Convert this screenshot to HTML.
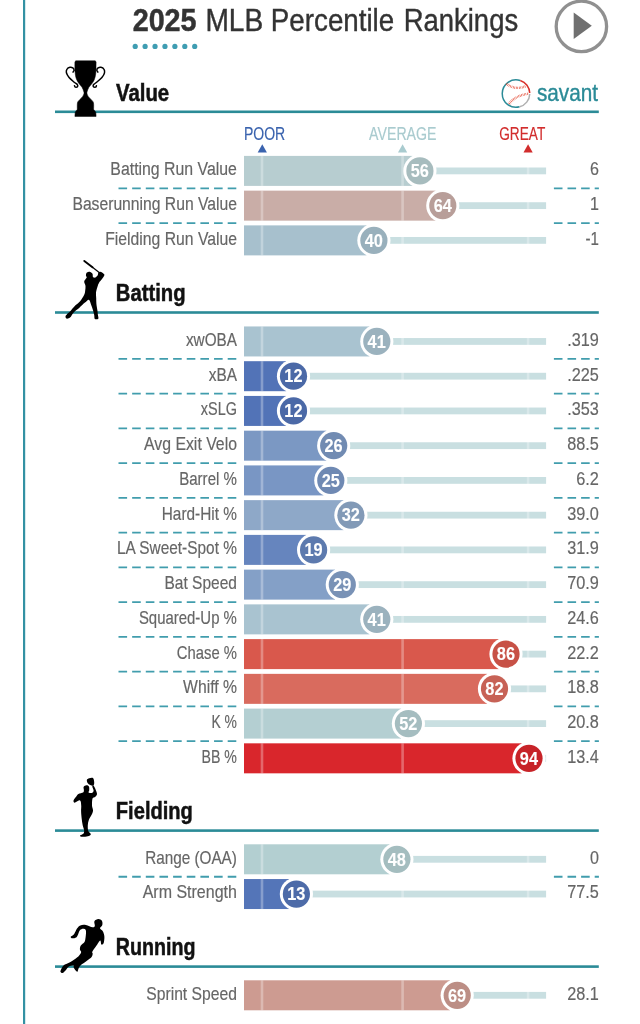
<!DOCTYPE html>
<html lang="en"><head><meta charset="utf-8"><title>2025 MLB Percentile Rankings</title>
<style>
html,body{margin:0;padding:0;background:#fff;}
body{width:640px;height:1024px;overflow:hidden;}
svg{display:block;font-family:"Liberation Sans",sans-serif;}
</style></head><body>
<svg width="640" height="1024" viewBox="0 0 640 1024">
<rect width="640" height="1024" fill="#ffffff"/>
<rect x="23" y="0" width="2.2" height="1024" fill="#3391a3"/>
<circle cx="135.20" cy="46.4" r="2.6" fill="#3f9db2"/>
<circle cx="145.12" cy="46.4" r="2.6" fill="#3f9db2"/>
<circle cx="155.04" cy="46.4" r="2.6" fill="#3f9db2"/>
<circle cx="164.96" cy="46.4" r="2.6" fill="#3f9db2"/>
<circle cx="174.88" cy="46.4" r="2.6" fill="#3f9db2"/>
<circle cx="184.80" cy="46.4" r="2.6" fill="#3f9db2"/>
<circle cx="194.72" cy="46.4" r="2.6" fill="#3f9db2"/>
<circle cx="581.4" cy="26.4" r="25.2" fill="#fff" stroke="#909090" stroke-width="3.3"/>
<path d="M573.7 12.4 L573.7 39 L591.8 25.7 Z" fill="#707070"/>
<rect x="55" y="110.50" width="543.8" height="2.6" fill="#2b8b97"/>
<rect x="244.0" y="167.50" width="302.1" height="6.8" fill="#c9dfe1"/>
<rect x="244.0" y="155.90" width="168.6" height="30.0" fill="#b7cdd0"/>
<rect x="260.7" y="155.90" width="2.6" height="30.0" fill="#fff" fill-opacity="0.3"/>
<rect x="401.3" y="155.90" width="2.6" height="30.0" fill="#fff" fill-opacity="0.3"/>
<rect x="526.8" y="155.90" width="2.6" height="30.0" fill="#fff" fill-opacity="0.3"/>
<circle cx="419.9" cy="170.90" r="16.6" fill="#fff"/>
<circle cx="419.9" cy="170.90" r="13.6" fill="#a7bcbe"/>
<line x1="118.5" y1="188.37" x2="236.3" y2="188.37" stroke="#419dad" stroke-width="1.8" stroke-dasharray="8.6 5.05"/>
<line x1="553.9" y1="188.37" x2="598.9" y2="188.37" stroke="#419dad" stroke-width="1.8" stroke-dasharray="8.6 5"/>
<rect x="244.0" y="202.24" width="302.1" height="6.8" fill="#c9dfe1"/>
<rect x="244.0" y="190.64" width="191.5" height="30.0" fill="#c9ada7"/>
<rect x="260.7" y="190.64" width="2.6" height="30.0" fill="#fff" fill-opacity="0.3"/>
<rect x="401.3" y="190.64" width="2.6" height="30.0" fill="#fff" fill-opacity="0.3"/>
<rect x="526.8" y="190.64" width="2.6" height="30.0" fill="#fff" fill-opacity="0.3"/>
<circle cx="442.8" cy="205.64" r="16.6" fill="#fff"/>
<circle cx="442.8" cy="205.64" r="13.6" fill="#b89e99"/>
<line x1="118.5" y1="223.11" x2="236.3" y2="223.11" stroke="#419dad" stroke-width="1.8" stroke-dasharray="8.6 5.05"/>
<line x1="553.9" y1="223.11" x2="598.9" y2="223.11" stroke="#419dad" stroke-width="1.8" stroke-dasharray="8.6 5"/>
<rect x="244.0" y="236.98" width="302.1" height="6.8" fill="#c9dfe1"/>
<rect x="244.0" y="225.38" width="122.6" height="30.0" fill="#a7c0cd"/>
<rect x="260.7" y="225.38" width="2.6" height="30.0" fill="#fff" fill-opacity="0.3"/>
<rect x="401.3" y="225.38" width="2.6" height="30.0" fill="#fff" fill-opacity="0.3"/>
<rect x="526.8" y="225.38" width="2.6" height="30.0" fill="#fff" fill-opacity="0.3"/>
<circle cx="373.9" cy="240.38" r="16.6" fill="#fff"/>
<circle cx="373.9" cy="240.38" r="13.6" fill="#99b0bc"/>
<rect x="55" y="311.20" width="543.8" height="2.6" fill="#2b8b97"/>
<rect x="244.0" y="338.05" width="302.1" height="6.8" fill="#c9dfe1"/>
<rect x="244.0" y="326.45" width="125.5" height="30.0" fill="#a9c3d0"/>
<rect x="260.7" y="326.45" width="2.6" height="30.0" fill="#fff" fill-opacity="0.3"/>
<rect x="401.3" y="326.45" width="2.6" height="30.0" fill="#fff" fill-opacity="0.3"/>
<rect x="526.8" y="326.45" width="2.6" height="30.0" fill="#fff" fill-opacity="0.3"/>
<circle cx="376.8" cy="341.45" r="16.6" fill="#fff"/>
<circle cx="376.8" cy="341.45" r="13.6" fill="#9bb2be"/>
<line x1="118.5" y1="358.92" x2="236.3" y2="358.92" stroke="#419dad" stroke-width="1.8" stroke-dasharray="8.6 5.05"/>
<line x1="553.9" y1="358.92" x2="598.9" y2="358.92" stroke="#419dad" stroke-width="1.8" stroke-dasharray="8.6 5"/>
<rect x="244.0" y="372.79" width="302.1" height="6.8" fill="#c9dfe1"/>
<rect x="244.0" y="361.19" width="42.2" height="30.0" fill="#5273b7"/>
<rect x="260.7" y="361.19" width="2.6" height="30.0" fill="#fff" fill-opacity="0.3"/>
<rect x="401.3" y="361.19" width="2.6" height="30.0" fill="#fff" fill-opacity="0.3"/>
<rect x="526.8" y="361.19" width="2.6" height="30.0" fill="#fff" fill-opacity="0.3"/>
<circle cx="293.5" cy="376.19" r="16.6" fill="#fff"/>
<circle cx="293.5" cy="376.19" r="13.6" fill="#4b69a7"/>
<line x1="118.5" y1="393.66" x2="236.3" y2="393.66" stroke="#419dad" stroke-width="1.8" stroke-dasharray="8.6 5.05"/>
<line x1="553.9" y1="393.66" x2="598.9" y2="393.66" stroke="#419dad" stroke-width="1.8" stroke-dasharray="8.6 5"/>
<rect x="244.0" y="407.53" width="302.1" height="6.8" fill="#c9dfe1"/>
<rect x="244.0" y="395.93" width="42.2" height="30.0" fill="#5273b7"/>
<rect x="260.7" y="395.93" width="2.6" height="30.0" fill="#fff" fill-opacity="0.3"/>
<rect x="401.3" y="395.93" width="2.6" height="30.0" fill="#fff" fill-opacity="0.3"/>
<rect x="526.8" y="395.93" width="2.6" height="30.0" fill="#fff" fill-opacity="0.3"/>
<circle cx="293.5" cy="410.93" r="16.6" fill="#fff"/>
<circle cx="293.5" cy="410.93" r="13.6" fill="#4b69a7"/>
<line x1="118.5" y1="428.40" x2="236.3" y2="428.40" stroke="#419dad" stroke-width="1.8" stroke-dasharray="8.6 5.05"/>
<line x1="553.9" y1="428.40" x2="598.9" y2="428.40" stroke="#419dad" stroke-width="1.8" stroke-dasharray="8.6 5"/>
<rect x="244.0" y="442.27" width="302.1" height="6.8" fill="#c9dfe1"/>
<rect x="244.0" y="430.67" width="82.4" height="30.0" fill="#7b98c3"/>
<rect x="260.7" y="430.67" width="2.6" height="30.0" fill="#fff" fill-opacity="0.3"/>
<rect x="401.3" y="430.67" width="2.6" height="30.0" fill="#fff" fill-opacity="0.3"/>
<rect x="526.8" y="430.67" width="2.6" height="30.0" fill="#fff" fill-opacity="0.3"/>
<circle cx="333.7" cy="445.67" r="16.6" fill="#fff"/>
<circle cx="333.7" cy="445.67" r="13.6" fill="#718bb2"/>
<line x1="118.5" y1="463.14" x2="236.3" y2="463.14" stroke="#419dad" stroke-width="1.8" stroke-dasharray="8.6 5.05"/>
<line x1="553.9" y1="463.14" x2="598.9" y2="463.14" stroke="#419dad" stroke-width="1.8" stroke-dasharray="8.6 5"/>
<rect x="244.0" y="477.01" width="302.1" height="6.8" fill="#c9dfe1"/>
<rect x="244.0" y="465.41" width="79.5" height="30.0" fill="#7996c4"/>
<rect x="260.7" y="465.41" width="2.6" height="30.0" fill="#fff" fill-opacity="0.3"/>
<rect x="401.3" y="465.41" width="2.6" height="30.0" fill="#fff" fill-opacity="0.3"/>
<rect x="526.8" y="465.41" width="2.6" height="30.0" fill="#fff" fill-opacity="0.3"/>
<circle cx="330.8" cy="480.41" r="16.6" fill="#fff"/>
<circle cx="330.8" cy="480.41" r="13.6" fill="#6f89b3"/>
<line x1="118.5" y1="497.88" x2="236.3" y2="497.88" stroke="#419dad" stroke-width="1.8" stroke-dasharray="8.6 5.05"/>
<line x1="553.9" y1="497.88" x2="598.9" y2="497.88" stroke="#419dad" stroke-width="1.8" stroke-dasharray="8.6 5"/>
<rect x="244.0" y="511.75" width="302.1" height="6.8" fill="#c9dfe1"/>
<rect x="244.0" y="500.15" width="99.6" height="30.0" fill="#8ea8c8"/>
<rect x="260.7" y="500.15" width="2.6" height="30.0" fill="#fff" fill-opacity="0.3"/>
<rect x="401.3" y="500.15" width="2.6" height="30.0" fill="#fff" fill-opacity="0.3"/>
<rect x="526.8" y="500.15" width="2.6" height="30.0" fill="#fff" fill-opacity="0.3"/>
<circle cx="350.9" cy="515.15" r="16.6" fill="#fff"/>
<circle cx="350.9" cy="515.15" r="13.6" fill="#829ab7"/>
<line x1="118.5" y1="532.62" x2="236.3" y2="532.62" stroke="#419dad" stroke-width="1.8" stroke-dasharray="8.6 5.05"/>
<line x1="553.9" y1="532.62" x2="598.9" y2="532.62" stroke="#419dad" stroke-width="1.8" stroke-dasharray="8.6 5"/>
<rect x="244.0" y="546.49" width="302.1" height="6.8" fill="#c9dfe1"/>
<rect x="244.0" y="534.89" width="62.3" height="30.0" fill="#6685be"/>
<rect x="260.7" y="534.89" width="2.6" height="30.0" fill="#fff" fill-opacity="0.3"/>
<rect x="401.3" y="534.89" width="2.6" height="30.0" fill="#fff" fill-opacity="0.3"/>
<rect x="526.8" y="534.89" width="2.6" height="30.0" fill="#fff" fill-opacity="0.3"/>
<circle cx="313.6" cy="549.89" r="16.6" fill="#fff"/>
<circle cx="313.6" cy="549.89" r="13.6" fill="#5d7aae"/>
<line x1="118.5" y1="567.36" x2="236.3" y2="567.36" stroke="#419dad" stroke-width="1.8" stroke-dasharray="8.6 5.05"/>
<line x1="553.9" y1="567.36" x2="598.9" y2="567.36" stroke="#419dad" stroke-width="1.8" stroke-dasharray="8.6 5"/>
<rect x="244.0" y="581.23" width="302.1" height="6.8" fill="#c9dfe1"/>
<rect x="244.0" y="569.63" width="91.0" height="30.0" fill="#84a0c7"/>
<rect x="260.7" y="569.63" width="2.6" height="30.0" fill="#fff" fill-opacity="0.3"/>
<rect x="401.3" y="569.63" width="2.6" height="30.0" fill="#fff" fill-opacity="0.3"/>
<rect x="526.8" y="569.63" width="2.6" height="30.0" fill="#fff" fill-opacity="0.3"/>
<circle cx="342.3" cy="584.63" r="16.6" fill="#fff"/>
<circle cx="342.3" cy="584.63" r="13.6" fill="#7992b6"/>
<line x1="118.5" y1="602.10" x2="236.3" y2="602.10" stroke="#419dad" stroke-width="1.8" stroke-dasharray="8.6 5.05"/>
<line x1="553.9" y1="602.10" x2="598.9" y2="602.10" stroke="#419dad" stroke-width="1.8" stroke-dasharray="8.6 5"/>
<rect x="244.0" y="615.97" width="302.1" height="6.8" fill="#c9dfe1"/>
<rect x="244.0" y="604.37" width="125.5" height="30.0" fill="#a9c3d0"/>
<rect x="260.7" y="604.37" width="2.6" height="30.0" fill="#fff" fill-opacity="0.3"/>
<rect x="401.3" y="604.37" width="2.6" height="30.0" fill="#fff" fill-opacity="0.3"/>
<rect x="526.8" y="604.37" width="2.6" height="30.0" fill="#fff" fill-opacity="0.3"/>
<circle cx="376.8" cy="619.37" r="16.6" fill="#fff"/>
<circle cx="376.8" cy="619.37" r="13.6" fill="#9bb2be"/>
<line x1="118.5" y1="636.84" x2="236.3" y2="636.84" stroke="#419dad" stroke-width="1.8" stroke-dasharray="8.6 5.05"/>
<line x1="553.9" y1="636.84" x2="598.9" y2="636.84" stroke="#419dad" stroke-width="1.8" stroke-dasharray="8.6 5"/>
<rect x="244.0" y="650.71" width="302.1" height="6.8" fill="#c9dfe1"/>
<rect x="244.0" y="639.11" width="254.7" height="30.0" fill="#d9584c"/>
<rect x="260.7" y="639.11" width="2.6" height="30.0" fill="#fff" fill-opacity="0.3"/>
<rect x="401.3" y="639.11" width="2.6" height="30.0" fill="#fff" fill-opacity="0.3"/>
<rect x="526.8" y="639.11" width="2.6" height="30.0" fill="#fff" fill-opacity="0.3"/>
<circle cx="506.0" cy="654.11" r="16.6" fill="#fff"/>
<circle cx="506.0" cy="654.11" r="13.6" fill="#c75146"/>
<line x1="118.5" y1="671.58" x2="236.3" y2="671.58" stroke="#419dad" stroke-width="1.8" stroke-dasharray="8.6 5.05"/>
<line x1="553.9" y1="671.58" x2="598.9" y2="671.58" stroke="#419dad" stroke-width="1.8" stroke-dasharray="8.6 5"/>
<rect x="244.0" y="685.45" width="302.1" height="6.8" fill="#c9dfe1"/>
<rect x="244.0" y="673.85" width="243.2" height="30.0" fill="#d96b5e"/>
<rect x="260.7" y="673.85" width="2.6" height="30.0" fill="#fff" fill-opacity="0.3"/>
<rect x="401.3" y="673.85" width="2.6" height="30.0" fill="#fff" fill-opacity="0.3"/>
<rect x="526.8" y="673.85" width="2.6" height="30.0" fill="#fff" fill-opacity="0.3"/>
<circle cx="494.5" cy="688.85" r="16.6" fill="#fff"/>
<circle cx="494.5" cy="688.85" r="13.6" fill="#c76256"/>
<line x1="118.5" y1="706.32" x2="236.3" y2="706.32" stroke="#419dad" stroke-width="1.8" stroke-dasharray="8.6 5.05"/>
<line x1="553.9" y1="706.32" x2="598.9" y2="706.32" stroke="#419dad" stroke-width="1.8" stroke-dasharray="8.6 5"/>
<rect x="244.0" y="720.19" width="302.1" height="6.8" fill="#c9dfe1"/>
<rect x="244.0" y="708.59" width="157.1" height="30.0" fill="#b4cfd2"/>
<rect x="260.7" y="708.59" width="2.6" height="30.0" fill="#fff" fill-opacity="0.3"/>
<rect x="401.3" y="708.59" width="2.6" height="30.0" fill="#fff" fill-opacity="0.3"/>
<rect x="526.8" y="708.59" width="2.6" height="30.0" fill="#fff" fill-opacity="0.3"/>
<circle cx="408.4" cy="723.59" r="16.6" fill="#fff"/>
<circle cx="408.4" cy="723.59" r="13.6" fill="#a5bdc0"/>
<line x1="118.5" y1="741.06" x2="236.3" y2="741.06" stroke="#419dad" stroke-width="1.8" stroke-dasharray="8.6 5.05"/>
<line x1="553.9" y1="741.06" x2="598.9" y2="741.06" stroke="#419dad" stroke-width="1.8" stroke-dasharray="8.6 5"/>
<rect x="244.0" y="754.93" width="302.1" height="6.8" fill="#c9dfe1"/>
<rect x="244.0" y="743.33" width="277.7" height="30.0" fill="#d9262c"/>
<rect x="260.7" y="743.33" width="2.6" height="30.0" fill="#fff" fill-opacity="0.3"/>
<rect x="401.3" y="743.33" width="2.6" height="30.0" fill="#fff" fill-opacity="0.3"/>
<rect x="526.8" y="743.33" width="2.6" height="30.0" fill="#fff" fill-opacity="0.3"/>
<circle cx="529.0" cy="758.33" r="16.6" fill="#fff"/>
<circle cx="529.0" cy="758.33" r="13.6" fill="#c72328"/>
<rect x="55" y="829.30" width="543.8" height="2.6" fill="#2b8b97"/>
<rect x="244.0" y="855.90" width="302.1" height="6.8" fill="#c9dfe1"/>
<rect x="244.0" y="844.30" width="145.6" height="30.0" fill="#b3cfd1"/>
<rect x="260.7" y="844.30" width="2.6" height="30.0" fill="#fff" fill-opacity="0.3"/>
<rect x="401.3" y="844.30" width="2.6" height="30.0" fill="#fff" fill-opacity="0.3"/>
<rect x="526.8" y="844.30" width="2.6" height="30.0" fill="#fff" fill-opacity="0.3"/>
<circle cx="396.9" cy="859.30" r="16.6" fill="#fff"/>
<circle cx="396.9" cy="859.30" r="13.6" fill="#a4bdbf"/>
<line x1="118.5" y1="876.77" x2="236.3" y2="876.77" stroke="#419dad" stroke-width="1.8" stroke-dasharray="8.6 5.05"/>
<line x1="553.9" y1="876.77" x2="598.9" y2="876.77" stroke="#419dad" stroke-width="1.8" stroke-dasharray="8.6 5"/>
<rect x="244.0" y="890.64" width="302.1" height="6.8" fill="#c9dfe1"/>
<rect x="244.0" y="879.04" width="45.1" height="30.0" fill="#5475b8"/>
<rect x="260.7" y="879.04" width="2.6" height="30.0" fill="#fff" fill-opacity="0.3"/>
<rect x="401.3" y="879.04" width="2.6" height="30.0" fill="#fff" fill-opacity="0.3"/>
<rect x="526.8" y="879.04" width="2.6" height="30.0" fill="#fff" fill-opacity="0.3"/>
<circle cx="296.4" cy="894.04" r="16.6" fill="#fff"/>
<circle cx="296.4" cy="894.04" r="13.6" fill="#4d6ba8"/>
<rect x="55" y="965.30" width="543.8" height="2.6" fill="#2b8b97"/>
<rect x="244.0" y="991.90" width="302.1" height="6.8" fill="#c9dfe1"/>
<rect x="244.0" y="980.30" width="205.9" height="30.0" fill="#cd9b91"/>
<rect x="260.7" y="980.30" width="2.6" height="30.0" fill="#fff" fill-opacity="0.3"/>
<rect x="401.3" y="980.30" width="2.6" height="30.0" fill="#fff" fill-opacity="0.3"/>
<rect x="526.8" y="980.30" width="2.6" height="30.0" fill="#fff" fill-opacity="0.3"/>
<circle cx="457.2" cy="995.30" r="16.6" fill="#fff"/>
<circle cx="457.2" cy="995.30" r="13.6" fill="#bc8e85"/>
<path d="M262.3 144.2 L257.7 152.5 L266.90000000000003 152.5 Z" fill="#3a63ae"/>
<path d="M402.6 144.2 L398.0 152.5 L407.20000000000005 152.5 Z" fill="#a9cbcf"/>
<path d="M528.1 144.2 L523.5 152.5 L532.7 152.5 Z" fill="#d22d2d"/>
<text transform="translate(132.69 30.90) scale(0.2279 .25)" font-size="126" font-weight="700" fill="#333333" stroke="#333333" stroke-width="2">2025</text>
<text transform="translate(205.41 30.90) scale(0.2235 .25)" font-size="126" fill="#333333" stroke="#333333" stroke-width="1.6">MLB</text>
<text transform="translate(270.84 30.90) scale(0.2203 .25)" font-size="126" fill="#333333" stroke="#333333" stroke-width="1.6">Percentile</text>
<text transform="translate(403.66 30.90) scale(0.2180 .25)" font-size="126" fill="#333333" stroke="#333333" stroke-width="1.6">Rankings</text>
<text transform="translate(115.90 100.65) scale(0.2162 .25)" font-size="94.4" font-weight="700" fill="#111111" stroke="#111111" stroke-width="2">Value</text>
<text transform="translate(410.67 177.20) scale(0.2272 .25)" font-size="72" font-weight="700" fill="#ffffff" stroke="#ffffff" stroke-width="0.48">56</text>
<text transform="translate(110.35 175.30) scale(0.2202 .25)" font-size="72" fill="#666666" stroke="#666666" stroke-width="0.68">Batting Run Value</text>
<text transform="translate(589.94 175.30) scale(0.2237 .25)" font-size="72" fill="#666666" stroke="#666666" stroke-width="0.68">6</text>
<text transform="translate(433.65 211.94) scale(0.2272 .25)" font-size="72" font-weight="700" fill="#ffffff" stroke="#ffffff" stroke-width="0.48">64</text>
<text transform="translate(72.43 210.04) scale(0.2179 .25)" font-size="72" fill="#666666" stroke="#666666" stroke-width="0.68">Baserunning Run Value</text>
<text transform="translate(589.94 210.04) scale(0.2237 .25)" font-size="72" fill="#666666" stroke="#666666" stroke-width="0.68">1</text>
<text transform="translate(364.72 246.68) scale(0.2272 .25)" font-size="72" font-weight="700" fill="#ffffff" stroke="#ffffff" stroke-width="0.48">40</text>
<text transform="translate(105.13 244.78) scale(0.2187 .25)" font-size="72" fill="#666666" stroke="#666666" stroke-width="0.68">Fielding Run Value</text>
<text transform="translate(585.43 244.78) scale(0.2102 .25)" font-size="72" fill="#666666" stroke="#666666" stroke-width="0.68">-1</text>
<text transform="translate(115.84 301.35) scale(0.2147 .25)" font-size="94.4" font-weight="700" fill="#111111" stroke="#111111" stroke-width="2">Batting</text>
<text transform="translate(367.59 347.75) scale(0.2272 .25)" font-size="72" font-weight="700" fill="#ffffff" stroke="#ffffff" stroke-width="0.48">41</text>
<text transform="translate(185.97 345.85) scale(0.2126 .25)" font-size="72" fill="#666666" stroke="#666666" stroke-width="0.68">xwOBA</text>
<text transform="translate(567.24 345.85) scale(0.2258 .25)" font-size="72" fill="#666666" stroke="#666666" stroke-width="0.68">.319</text>
<text transform="translate(284.30 382.49) scale(0.2272 .25)" font-size="72" font-weight="700" fill="#ffffff" stroke="#ffffff" stroke-width="0.48">12</text>
<text transform="translate(208.67 380.59) scale(0.2146 .25)" font-size="72" fill="#666666" stroke="#666666" stroke-width="0.68">xBA</text>
<text transform="translate(567.24 380.59) scale(0.2258 .25)" font-size="72" fill="#666666" stroke="#666666" stroke-width="0.68">.225</text>
<text transform="translate(284.30 417.23) scale(0.2272 .25)" font-size="72" font-weight="700" fill="#ffffff" stroke="#ffffff" stroke-width="0.48">12</text>
<text transform="translate(200.85 415.33) scale(0.2007 .25)" font-size="72" fill="#666666" stroke="#666666" stroke-width="0.68">xSLG</text>
<text transform="translate(567.24 415.33) scale(0.2258 .25)" font-size="72" fill="#666666" stroke="#666666" stroke-width="0.68">.353</text>
<text transform="translate(324.51 451.97) scale(0.2272 .25)" font-size="72" font-weight="700" fill="#ffffff" stroke="#ffffff" stroke-width="0.48">26</text>
<text transform="translate(143.98 450.07) scale(0.2199 .25)" font-size="72" fill="#666666" stroke="#666666" stroke-width="0.68">Avg Exit Velo</text>
<text transform="translate(567.24 450.07) scale(0.2258 .25)" font-size="72" fill="#666666" stroke="#666666" stroke-width="0.68">88.5</text>
<text transform="translate(321.64 486.71) scale(0.2272 .25)" font-size="72" font-weight="700" fill="#ffffff" stroke="#ffffff" stroke-width="0.48">25</text>
<text transform="translate(179.20 484.81) scale(0.2093 .25)" font-size="72" fill="#666666" stroke="#666666" stroke-width="0.68">Barrel %</text>
<text transform="translate(576.19 484.81) scale(0.2268 .25)" font-size="72" fill="#666666" stroke="#666666" stroke-width="0.68">6.2</text>
<text transform="translate(341.74 521.45) scale(0.2272 .25)" font-size="72" font-weight="700" fill="#ffffff" stroke="#ffffff" stroke-width="0.48">32</text>
<text transform="translate(161.76 519.55) scale(0.2137 .25)" font-size="72" fill="#666666" stroke="#666666" stroke-width="0.68">Hard-Hit %</text>
<text transform="translate(567.24 519.55) scale(0.2258 .25)" font-size="72" fill="#666666" stroke="#666666" stroke-width="0.68">39.0</text>
<text transform="translate(304.41 556.19) scale(0.2272 .25)" font-size="72" font-weight="700" fill="#ffffff" stroke="#ffffff" stroke-width="0.48">19</text>
<text transform="translate(117.02 554.29) scale(0.2141 .25)" font-size="72" fill="#666666" stroke="#666666" stroke-width="0.68">LA Sweet-Spot %</text>
<text transform="translate(567.24 554.29) scale(0.2258 .25)" font-size="72" fill="#666666" stroke="#666666" stroke-width="0.68">31.9</text>
<text transform="translate(333.13 590.93) scale(0.2272 .25)" font-size="72" font-weight="700" fill="#ffffff" stroke="#ffffff" stroke-width="0.48">29</text>
<text transform="translate(164.50 589.03) scale(0.2156 .25)" font-size="72" fill="#666666" stroke="#666666" stroke-width="0.68">Bat Speed</text>
<text transform="translate(567.24 589.03) scale(0.2258 .25)" font-size="72" fill="#666666" stroke="#666666" stroke-width="0.68">70.9</text>
<text transform="translate(367.59 625.67) scale(0.2272 .25)" font-size="72" font-weight="700" fill="#ffffff" stroke="#ffffff" stroke-width="0.48">41</text>
<text transform="translate(138.89 623.77) scale(0.2077 .25)" font-size="72" fill="#666666" stroke="#666666" stroke-width="0.68">Squared-Up %</text>
<text transform="translate(567.24 623.77) scale(0.2258 .25)" font-size="72" fill="#666666" stroke="#666666" stroke-width="0.68">24.6</text>
<text transform="translate(496.83 660.41) scale(0.2272 .25)" font-size="72" font-weight="700" fill="#ffffff" stroke="#ffffff" stroke-width="0.48">86</text>
<text transform="translate(176.84 658.51) scale(0.2059 .25)" font-size="72" fill="#666666" stroke="#666666" stroke-width="0.68">Chase %</text>
<text transform="translate(567.24 658.51) scale(0.2258 .25)" font-size="72" fill="#666666" stroke="#666666" stroke-width="0.68">22.2</text>
<text transform="translate(485.34 695.15) scale(0.2272 .25)" font-size="72" font-weight="700" fill="#ffffff" stroke="#ffffff" stroke-width="0.48">82</text>
<text transform="translate(183.12 693.25) scale(0.2184 .25)" font-size="72" fill="#666666" stroke="#666666" stroke-width="0.68">Whiff %</text>
<text transform="translate(567.24 693.25) scale(0.2258 .25)" font-size="72" fill="#666666" stroke="#666666" stroke-width="0.68">18.8</text>
<text transform="translate(399.18 729.89) scale(0.2272 .25)" font-size="72" font-weight="700" fill="#ffffff" stroke="#ffffff" stroke-width="0.48">52</text>
<text transform="translate(211.45 727.99) scale(0.1934 .25)" font-size="72" fill="#666666" stroke="#666666" stroke-width="0.68">K %</text>
<text transform="translate(567.24 727.99) scale(0.2258 .25)" font-size="72" fill="#666666" stroke="#666666" stroke-width="0.68">20.8</text>
<text transform="translate(519.81 764.63) scale(0.2272 .25)" font-size="72" font-weight="700" fill="#ffffff" stroke="#ffffff" stroke-width="0.48">94</text>
<text transform="translate(201.53 762.73) scale(0.1969 .25)" font-size="72" fill="#666666" stroke="#666666" stroke-width="0.68">BB %</text>
<text transform="translate(567.24 762.73) scale(0.2258 .25)" font-size="72" fill="#666666" stroke="#666666" stroke-width="0.68">13.4</text>
<text transform="translate(115.85 819.45) scale(0.2130 .25)" font-size="94.4" font-weight="700" fill="#111111" stroke="#111111" stroke-width="2">Fielding</text>
<text transform="translate(387.69 865.60) scale(0.2272 .25)" font-size="72" font-weight="700" fill="#ffffff" stroke="#ffffff" stroke-width="0.48">48</text>
<text transform="translate(145.15 863.70) scale(0.2125 .25)" font-size="72" fill="#666666" stroke="#666666" stroke-width="0.68">Range (OAA)</text>
<text transform="translate(589.94 863.70) scale(0.2237 .25)" font-size="72" fill="#666666" stroke="#666666" stroke-width="0.68">0</text>
<text transform="translate(287.17 900.34) scale(0.2272 .25)" font-size="72" font-weight="700" fill="#ffffff" stroke="#ffffff" stroke-width="0.48">13</text>
<text transform="translate(142.67 898.44) scale(0.2224 .25)" font-size="72" fill="#666666" stroke="#666666" stroke-width="0.68">Arm Strength</text>
<text transform="translate(567.24 898.44) scale(0.2258 .25)" font-size="72" fill="#666666" stroke="#666666" stroke-width="0.68">77.5</text>
<text transform="translate(115.87 955.45) scale(0.2083 .25)" font-size="94.4" font-weight="700" fill="#111111" stroke="#111111" stroke-width="2">Running</text>
<text transform="translate(448.01 1001.60) scale(0.2272 .25)" font-size="72" font-weight="700" fill="#ffffff" stroke="#ffffff" stroke-width="0.48">69</text>
<text transform="translate(146.25 999.70) scale(0.2180 .25)" font-size="72" fill="#666666" stroke="#666666" stroke-width="0.68">Sprint Speed</text>
<text transform="translate(567.24 999.70) scale(0.2258 .25)" font-size="72" fill="#666666" stroke="#666666" stroke-width="0.68">28.1</text>
<text transform="translate(243.91 140.30) scale(0.1970 .25)" font-size="71.2" fill="#3a63ae" stroke="#3a63ae" stroke-width="0.68">POOR</text>
<text transform="translate(369.10 140.30) scale(0.1990 .25)" font-size="71.2" fill="#a9cbcf" stroke="#a9cbcf" stroke-width="0.68">AVERAGE</text>
<text transform="translate(499.20 140.30) scale(0.1919 .25)" font-size="71.2" fill="#d22d2d" stroke="#d22d2d" stroke-width="0.68">GREAT</text>
<text transform="translate(536.90 100.80) scale(0.2198 .25)" font-size="94.4" fill="#2b8b97" stroke="#2b8b97" stroke-width="1.6">savant</text>
<path d="M74.9 62.3C74.9 63.9 74.8 69.2 75.1 71.9C75.3 74.6 75.6 76.6 76.2 78.4C76.8 80.3 77.7 81.6 78.6 83.1C79.6 84.6 81.2 86.0 82.0 87.3C82.8 88.7 83.3 90.1 83.6 91.1C83.9 92.1 84.1 92.5 84.0 93.4C83.8 94.3 83.4 95.4 82.7 96.4C82.1 97.4 80.8 98.4 79.9 99.4C79.1 100.5 77.9 101.0 77.5 102.6C77.1 104.3 77.3 108.2 77.3 109.4 L77.2 109.4 L75.2 112.2 L74.9 116.4 L96.1 116.4 L95.8 112.2 L93.7 109.4 L93.6 109.4C93.6 108.2 93.9 104.3 93.4 102.6C93.0 101.0 91.9 100.5 91.0 99.4C90.1 98.4 88.9 97.4 88.2 96.4C87.5 95.4 87.1 94.3 87.0 93.4C86.8 92.5 87.0 92.1 87.3 91.1C87.7 90.1 88.1 88.7 88.9 87.3C89.8 86.0 91.3 84.6 92.3 83.1C93.3 81.6 94.2 80.3 94.7 78.4C95.3 76.6 95.7 74.6 95.9 71.9C96.1 69.2 96.0 63.9 96.1 62.3 L96.1 61.7 L95.1 60.8 L75.8 60.8 L74.9 61.7Z" fill="#000" stroke="#000" stroke-width="0.5" stroke-linejoin="round"/>
<path d="M73.0 72.1C73.2 71.7 74.2 70.9 74.1 70.2C74.1 69.5 73.5 68.4 72.8 67.9C72.1 67.4 71.0 67.0 70.0 67.2C69.0 67.4 67.6 68.1 67.0 69.1C66.4 70.0 66.1 71.4 66.4 72.8C66.8 74.2 67.8 75.9 69.1 77.5C70.4 79.1 72.8 81.0 74.2 82.2C75.6 83.4 77.0 84.0 77.5 84.8C78.0 85.6 77.7 86.5 77.3 86.9C76.9 87.2 75.6 87.2 75.2 87.1C74.7 86.9 74.6 86.0 74.5 85.7" fill="none" stroke="#000" stroke-width="1.5" stroke-linecap="round"/>
<path d="M97.9 72.1C97.7 71.7 96.8 70.9 96.8 70.2C96.8 69.5 97.4 68.4 98.1 67.9C98.8 67.4 100.0 67.0 100.9 67.2C101.9 67.4 103.3 68.1 103.9 69.1C104.5 70.0 104.8 71.4 104.5 72.8C104.2 74.2 103.2 75.9 101.9 77.5C100.6 79.1 98.1 81.0 96.7 82.2C95.3 83.4 94.0 84.0 93.4 84.8C92.9 85.6 93.2 86.5 93.6 86.9C94.0 87.2 95.3 87.2 95.8 87.1C96.2 86.9 96.3 86.0 96.4 85.7" fill="none" stroke="#000" stroke-width="1.5" stroke-linecap="round"/>
<path d="M86.9 272.6C87.6 272.1 89.2 271.7 90.2 271.9C91.1 272.1 92.0 272.9 92.5 273.7C93.0 274.6 92.5 276.4 93.0 277.0C93.4 277.7 94.5 277.8 95.3 277.5C96.1 277.2 97.1 276.0 97.7 275.2C98.2 274.3 98.0 272.9 98.6 272.3C99.1 271.8 100.0 271.6 100.9 271.9C101.9 272.2 103.7 273.4 104.2 274.2C104.7 275.0 104.2 275.6 103.7 276.6C103.3 277.5 102.2 278.8 101.4 279.8C100.6 280.9 99.7 281.5 99.1 282.7C98.4 283.8 97.9 285.2 97.4 286.9C96.9 288.5 96.2 290.6 96.0 292.5C95.8 294.4 96.2 296.2 96.2 298.1C96.3 300.0 96.2 301.7 96.4 303.7C96.6 305.8 97.1 308.4 97.4 310.3C97.6 312.2 97.8 313.6 97.9 315.0C98.1 316.4 98.8 318.1 98.3 318.7C97.8 319.4 95.5 319.6 94.8 318.9C94.2 318.3 94.5 316.4 94.2 315.0C93.9 313.6 93.5 312.0 93.0 310.3C92.5 308.6 91.8 306.4 91.1 304.7C90.4 302.9 90.0 300.2 88.9 299.8C87.9 299.5 86.6 301.3 85.0 302.6C83.4 303.9 81.2 306.1 79.4 307.7C77.5 309.3 75.3 310.7 73.7 312.4C72.2 314.0 71.2 316.6 70.0 317.6C68.8 318.7 67.5 318.8 66.7 318.6C66.0 318.4 65.4 317.2 65.5 316.4C65.6 315.7 66.4 315.0 67.2 314.1C68.0 313.2 69.1 312.5 70.5 311.1C71.8 309.7 73.5 307.3 75.2 305.6C76.8 303.9 78.8 302.7 80.3 300.9C81.8 299.1 83.4 296.6 84.2 294.8C85.1 293.1 85.0 292.1 85.2 290.6C85.4 289.1 85.6 287.4 85.5 285.9C85.3 284.5 84.2 282.8 84.2 281.7C84.2 280.6 85.1 279.9 85.5 279.2C85.9 278.5 86.6 278.2 86.7 277.5C86.8 276.8 85.9 276.0 85.9 275.2C86.0 274.3 86.2 273.2 86.9 272.6Z" fill="#000"/>
<line x1="84.3" y1="260.9" x2="92.5" y2="267.3" stroke="#000" stroke-width="1.9" stroke-linecap="round"/>
<line x1="92.5" y1="267.3" x2="99.5" y2="272.8" stroke="#000" stroke-width="1.2" stroke-linecap="round"/>
<path d="M86.9 779.8C87.1 779.1 88.2 778.6 89.2 778.2C90.2 777.9 92.1 777.3 93.0 778.0C93.8 778.6 94.1 780.9 94.2 782.2C94.3 783.4 94.1 785.0 93.4 785.5C92.8 785.9 91.1 785.4 90.2 785.0C89.2 784.6 88.2 783.8 87.6 782.9C87.1 782.1 86.6 780.6 86.9 779.8Z" fill="#000"/>
<path d="M86.4 785.2C87.3 785.1 88.5 785.6 88.9 786.4C89.4 787.2 89.3 789.1 89.2 790.2C89.2 791.2 88.1 792.0 88.6 792.5C89.0 793.0 91.2 793.3 92.0 793.0C92.9 792.7 93.6 791.7 93.6 790.6C93.7 789.5 92.3 787.3 92.3 786.4C92.3 785.5 92.9 785.0 93.4 785.5C94.0 785.9 94.9 787.8 95.5 789.2C96.1 790.6 97.0 792.7 97.0 793.9C97.0 795.2 96.1 795.9 95.3 796.7C94.6 797.5 93.0 797.1 92.5 798.6C92.0 800.1 92.0 803.7 92.0 805.6C92.1 807.6 93.0 808.9 93.0 810.3C93.0 811.7 92.7 812.5 92.0 814.1C91.4 815.6 89.6 817.8 88.9 819.7C88.2 821.6 87.9 823.4 87.8 825.3C87.7 827.2 87.8 829.5 88.3 830.9C88.8 832.4 90.9 833.3 90.8 834.2C90.7 835.1 89.4 835.8 87.8 836.2C86.2 836.6 82.7 836.8 81.4 836.7C80.2 836.7 79.8 836.2 80.1 835.6C80.5 835.1 82.9 834.5 83.6 833.6C84.2 832.6 84.2 831.4 84.1 830.0C83.9 828.6 83.0 827.2 82.7 825.3C82.3 823.4 82.0 821.1 81.7 818.7C81.5 816.4 81.1 813.4 81.1 811.2C81.0 809.1 81.4 807.4 81.2 805.6C81.1 803.8 81.0 801.1 80.1 800.5C79.3 799.8 77.1 801.5 76.1 801.9C75.1 802.2 74.6 802.9 74.2 802.6C73.8 802.3 73.2 801.2 73.6 800.2C73.9 799.2 75.3 797.8 76.1 796.7C76.9 795.7 77.3 794.6 78.4 793.9C79.6 793.2 82.2 793.1 83.1 792.5C84.0 791.9 83.8 791.1 83.9 790.2C84.0 789.2 83.2 787.7 83.6 786.9C84.0 786.0 85.5 785.3 86.4 785.2Z" fill="#000"/>
<path d="M98.3 919.1C99.6 919.0 101.2 919.8 101.9 920.8C102.5 921.8 102.7 923.7 102.3 925.0C102.0 926.2 100.0 927.3 100.0 928.3C100.0 929.2 101.7 929.7 102.3 930.6C103.0 931.6 103.6 932.7 103.9 933.9C104.3 935.2 104.5 936.6 104.4 938.1C104.3 939.7 104.1 942.2 103.6 943.3C103.1 944.3 102.0 945.0 101.4 944.5C100.8 944.0 101.0 940.2 100.2 940.5C99.3 940.7 97.6 944.2 96.2 946.1C94.9 948.0 92.9 950.5 92.3 951.7C91.7 953.0 92.8 952.7 92.7 953.6C92.6 954.5 92.5 955.9 91.6 957.1C90.6 958.3 88.7 959.4 86.9 960.8C85.0 962.2 81.9 964.2 80.5 965.5C79.1 966.8 79.0 967.8 78.4 968.9C77.9 969.9 77.9 971.5 77.3 971.7C76.8 971.9 75.8 970.7 75.2 970.0C74.5 969.2 73.8 967.9 73.6 967.2C73.3 966.4 74.5 965.6 73.7 965.5C73.0 965.4 70.2 965.7 68.9 966.4C67.5 967.2 66.8 969.1 65.8 970.2C64.7 971.3 63.4 972.8 62.5 973.0C61.6 973.2 60.5 972.3 60.4 971.4C60.4 970.5 61.4 968.7 62.0 967.7C62.7 966.6 63.0 965.7 64.4 964.8C65.7 964.0 67.9 963.5 70.0 962.3C72.1 961.1 75.2 959.3 77.0 957.6C78.9 956.0 80.6 953.7 81.1 952.4C81.5 951.0 80.0 950.5 79.9 949.4C79.9 948.2 80.0 946.7 80.8 945.4C81.5 944.2 83.7 943.2 84.5 941.9C85.3 940.5 85.3 939.1 85.6 937.2C85.8 935.3 86.3 931.8 85.9 930.4C85.5 929.0 84.1 928.8 83.1 928.7C82.1 928.7 80.8 929.2 79.9 930.2C79.0 931.3 78.3 934.1 77.7 935.3C77.1 936.5 77.1 936.9 76.2 937.4C75.3 937.9 73.2 938.4 72.3 938.3C71.4 938.2 70.4 937.5 70.7 936.7C71.1 936.0 73.2 935.3 74.2 933.9C75.3 932.5 76.0 930.0 77.0 928.6C78.0 927.1 78.8 926.0 80.3 925.4C81.8 924.8 83.9 924.7 85.9 925.0C88.0 925.3 91.0 927.2 92.5 927.3C94.0 927.5 94.5 927.0 94.8 925.9C95.2 924.9 93.8 922.4 94.4 921.2C95.0 920.1 97.1 919.2 98.3 919.1Z" fill="#000"/>
<path d="M519.56 106.83 A13.75 13.75 0 1 1 520.25 80.47" fill="none" stroke="#2b8b97" stroke-width="1.5"/>
<path d="M520.25 80.47 A13.75 13.75 0 0 1 529.74 93.07" fill="none" stroke="#d9302a" stroke-width="1.5"/>
<path d="M529.74 94.03 A13.75 13.75 0 0 1 519.56 106.83" fill="none" stroke="#b0b0b0" stroke-width="1.5"/>
<path d="M506.4 83.8 Q515 90.5 525.6 86.2" fill="none" stroke="#e2452f" stroke-width="2.4" stroke-dasharray="0.6 0.9"/>
<path d="M509.3 103.8 Q514.5 95.8 528.8 93.6" fill="none" stroke="#e2452f" stroke-width="2.4" stroke-dasharray="0.6 0.9"/>
</svg>
</body></html>
